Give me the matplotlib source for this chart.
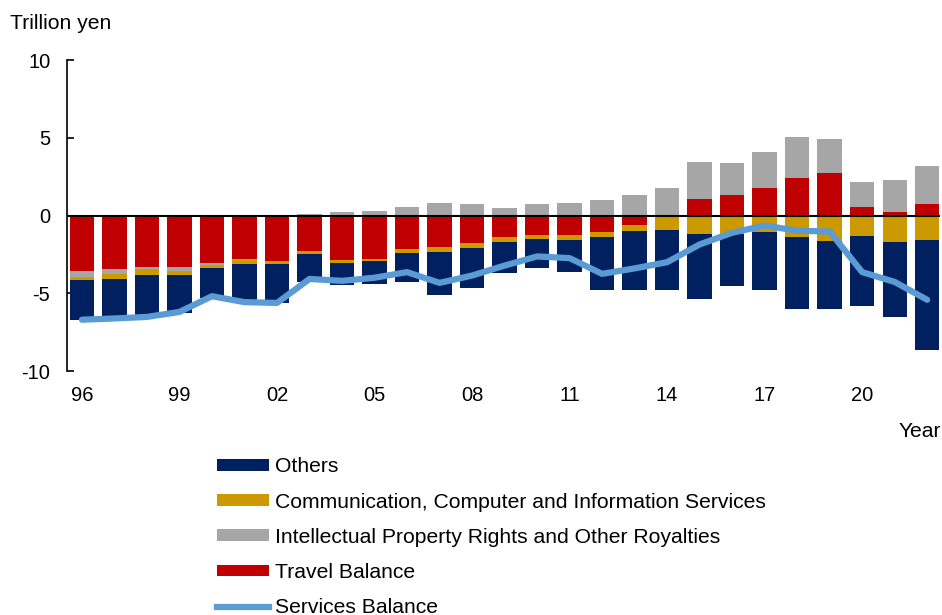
import numpy as np
import matplotlib.pyplot as plt
from matplotlib.lines import Line2D
from matplotlib.patches import Patch

plt.rcParams['font.family'] = ['Liberation Sans', 'DejaVu Sans']
plt.rcParams['axes.unicode_minus'] = False

years = ['96', '97', '98', '99', '00', '01', '02', '03', '04', '05', '06', '07', '08',
         '09', '10', '11', '12', '13', '14', '15', '16', '17', '18', '19', '20', '21', '22']

travel = [-3.58, -3.47, -3.28, -3.32, -3.06, -2.79, -2.92, -2.30, -2.89, -2.77, -2.13, -2.00, -1.74,
          -1.35, -1.27, -1.27, -1.03, -0.64, -0.05, 1.09, 1.33, 1.80, 2.44, 2.72, 0.56, 0.24, 0.73]
ip_rights = [-0.36, -0.28, -0.19, -0.22, -0.11, -0.08, 0.00, 0.13, 0.25, 0.32, 0.55, 0.79, 0.77,
             0.47, 0.71, 0.80, 0.98, 1.35, 1.76, 2.35, 2.08, 2.27, 2.62, 2.23, 1.61, 2.06, 2.48]
comm = [-0.18, -0.30, -0.35, -0.26, -0.22, -0.22, -0.17, -0.17, -0.17, -0.17, -0.30, -0.36, -0.36,
        -0.34, -0.25, -0.29, -0.32, -0.34, -0.87, -1.22, -1.18, -1.03, -1.35, -1.61, -1.31, -1.71, -1.59]
others = [-2.61, -2.42, -2.59, -2.48, -1.90, -2.42, -2.55, -1.80, -1.38, -1.46, -1.84, -2.77, -2.57,
          -2.02, -1.87, -2.04, -3.43, -3.84, -3.86, -4.14, -3.32, -3.73, -4.67, -4.39, -4.48, -4.81, -7.03]
services = [-6.70, -6.62, -6.52, -6.20, -5.19, -5.57, -5.62, -4.08, -4.20, -4.00, -3.64, -4.33, -3.86,
            -3.22, -2.63, -2.74, -3.75, -3.40, -3.00, -1.86, -1.11, -0.64, -0.98, -1.03, -3.64, -4.27, -5.42]

c_travel = '#C00000'
c_ip = '#A6A6A6'
c_comm = '#CC9900'
c_others = '#002060'
c_line = '#5B9BD5'

x = np.arange(len(years))
fig = plt.figure(figsize=(9.42, 6.15), dpi=100)
ax = fig.add_axes([0.0711, 0.3967, 0.927, 0.5057])

# stack positives up and negatives down, travel closest to zero
pos = np.zeros(len(years))
neg = np.zeros(len(years))
for vals, col in [(travel, c_travel), (ip_rights, c_ip), (comm, c_comm), (others, c_others)]:
    v = np.array(vals)
    bottom = np.where(v >= 0, pos, neg)
    ax.bar(x, v, 0.75, bottom=bottom, color=col, edgecolor='none', zorder=2)
    pos += np.where(v >= 0, v, 0)
    neg += np.where(v < 0, v, 0)

ax.axhline(0, color='black', lw=1.5, zorder=3)
ax.plot(x, services, color=c_line, lw=4.5, solid_capstyle='round', zorder=4)

ax.set_ylim(-10, 10)
ax.set_xlim(-0.46, 26.4)
ax.set_yticks([-10, -5, 0, 5, 10])
ax.set_xticks(x[::3])
ax.set_xticklabels(years[::3])
for s in ['top', 'right', 'bottom']:
    ax.spines[s].set_visible(False)
ax.spines['left'].set_linewidth(1.2)
ax.tick_params(axis='y', direction='in', length=5, width=1.2, labelsize=14.5, pad=12)
ax.tick_params(axis='x', length=0, labelsize=14.5, pad=11)

fig.text(0.011, 0.962, 'Trillion yen', fontsize=15.2, va='center', ha='left')
fig.text(0.999, 0.298, 'Year', fontsize=15.2, va='center', ha='right')

handles = [
    Patch(facecolor=c_others, label='Others'),
    Patch(facecolor=c_comm, label='Communication, Computer and Information Services'),
    Patch(facecolor=c_ip, label='Intellectual Property Rights and Other Royalties'),
    Patch(facecolor=c_travel, label='Travel Balance'),
    Line2D([0], [0], color=c_line, lw=4.5, label='Services Balance'),
]
fig.legend(handles=handles, loc='upper left', bbox_to_anchor=(0.2304, 0.2565), frameon=False,
           fontsize=15.2, handlelength=2.47, handleheight=0.47, handletextpad=0.29,
           labelspacing=0.77, borderpad=0, borderaxespad=0)

plt.savefig('out.png', dpi=100)
